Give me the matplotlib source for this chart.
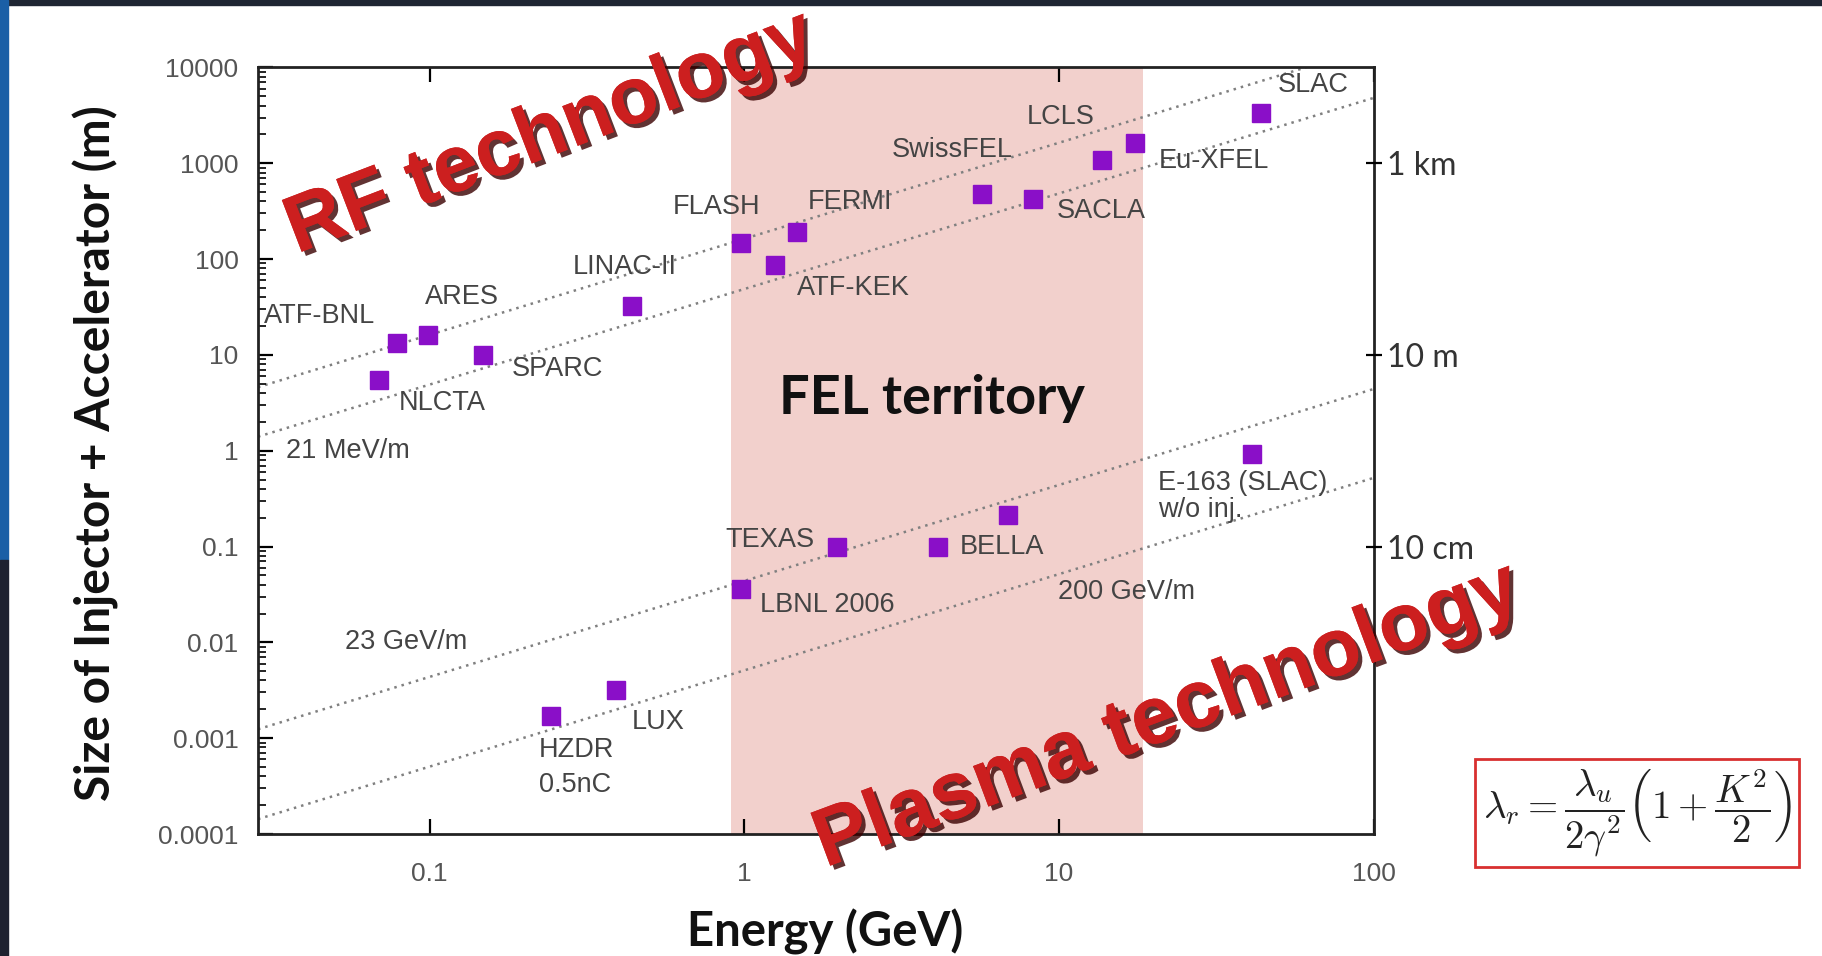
import matplotlib
matplotlib.use("Agg")
import matplotlib.pyplot as plt
import matplotlib.patheffects as pe
from matplotlib.patches import Rectangle

# ---------------------------
# Data
# ---------------------------
names = ["ATF-BNL", "ARES", "NLCTA", "SPARC", "LINAC-II", "FLASH", "ATF-KEK",
         "FERMI", "SwissFEL", "SACLA", "LCLS", "Eu-XFEL", "SLAC",
         "E-163", "TEXAS", "BELLA", "unlabeled", "LBNL 2006", "LUX", "HZDR"]
energy = [0.079, 0.099, 0.069, 0.148, 0.44, 0.975, 1.25,
          1.47, 5.7, 8.3, 13.7, 17.4, 44.0,
          41.0, 1.97, 4.13, 6.9, 0.975, 0.39, 0.244]
size_m = [13.4, 16.3, 5.5, 9.9, 32.7, 148, 87,
          190, 477, 427, 1070, 1630, 3370,
          0.92, 0.100, 0.100, 0.215, 0.036, 0.0032, 0.00172]

# gradient reference lines (end points)
rf_hi_x, rf_hi_y = [0.0285, 61.0], [4.6, 10000.0]
rf_lo_x, rf_lo_y = [0.0285, 100.0], [1.4, 4800.0]
pl_hi_x, pl_hi_y = [0.0285, 100.0], [0.00124, 4.4]
pl_lo_x, pl_lo_y = [0.0285, 100.0], [0.000143, 0.52]

fel_range = (0.91, 18.5)

# text labels: (text, x, y, ha)
labels = [
    ("ATF-BNL", 0.0446, 25.5, "center"),
    ("ARES", 0.127, 39.8, "center"),
    ("NLCTA", 0.110, 3.14, "center"),
    ("SPARC", 0.255, 7.05, "center"),
    ("LINAC-II", 0.417, 82.3, "center"),
    ("FLASH", 0.815, 351, "center"),
    ("FERMI", 2.17, 392, "center"),
    ("ATF-KEK", 2.22, 49.8, "center"),
    ("SwissFEL", 4.58, 1378, "center"),
    ("LCLS", 10.1, 3012, "center"),
    ("Eu-XFEL", 31.2, 1043, "center"),
    ("SACLA", 13.6, 314, "center"),
    ("SLAC", 64.3, 6580, "center"),
    ("21 MeV/m", 0.0551, 1.0, "center"),
    ("E-163 (SLAC)", 20.6, 0.458, "left"),
    ("w/o inj.", 20.6, 0.241, "left"),
    ("TEXAS", 1.21, 0.117, "center"),
    ("BELLA", 6.6, 0.0986, "center"),
    ("LBNL 2006", 1.84, 0.0244, "center"),
    ("200 GeV/m", 16.4, 0.0332, "center"),
    ("23 GeV/m", 0.0844, 0.01, "center"),
    ("LUX", 0.533, 0.00146, "center"),
    ("HZDR", 0.294, 0.000746, "center"),
    ("0.5nC", 0.29, 0.000323, "center"),
]

right_ticks = [1000, 10, 0.1]
right_labels = ["1 km", "10 m", "10 cm"]

W, H = 1822, 956


def fpos(x, y):
    """full-size pixel -> figure fraction"""
    return x / W, 1 - y / H


# ---------------------------
# Figure
# ---------------------------
plt.rcParams["mathtext.fontset"] = "cm"
fig = plt.figure(figsize=(W / 100, H / 100), dpi=100)
fig.patch.set_facecolor("white")

# slide frame bits
fig.patches.append(Rectangle((0, 1 - 5 / H), 1, 5 / H, transform=fig.transFigure,
                             color="#1f2633", zorder=0))
fig.patches.append(Rectangle((0, 1 - 560 / H), 8 / W, 560 / H, transform=fig.transFigure,
                             color="#1a5fa6", zorder=0))
fig.patches.append(Rectangle((0, 0), 8 / W, 1 - 560 / H, transform=fig.transFigure,
                             color="#1e2230", zorder=0))

ax = fig.add_axes([258 / W, 122 / H, (1373.5 - 258) / W, (834 - 67.4) / H])
ax.set_xscale("log")
ax.set_yscale("log")
ax.set_xlim(0.0285, 100)
ax.set_ylim(1e-4, 1e4)

ax.axvspan(*fel_range, color="#f2d0cc", lw=0, zorder=0)

dot = dict(color="#808080", lw=1.8, linestyle=(0, (1, 2)), zorder=1)
ax.plot(rf_hi_x, rf_hi_y, **dot)
ax.plot(rf_lo_x, rf_lo_y, **dot)
ax.plot(pl_hi_x, pl_hi_y, **dot)
ax.plot(pl_lo_x, pl_lo_y, **dot)

ax.plot(energy, size_m, "s", color="#8a0fc8", markersize=13, zorder=3)

for txt, x, y, ha in labels:
    ax.text(x, y, txt, ha=ha, va="center", fontsize=19.5, color="#444444",
            family="Liberation Sans", zorder=4)

ax.text(3.96, 3.5, "FEL territory", ha="center", va="center", fontsize=39,
        fontweight="bold", family="Lato", color="#111111", zorder=4)

# ticks / spines
ax.set_xticks([0.1, 1, 10, 100])
ax.set_xticklabels(["0.1", "1", "10", "100"])
ax.set_yticks([1e-4, 1e-3, 1e-2, 1e-1, 1, 10, 100, 1000, 10000])
ax.set_yticklabels(["0.0001", "0.001", "0.01", "0.1", "1", "10", "100", "1000", "10000"])
ax.tick_params(which="major", direction="in", length=11, width=1.6,
               top=True, right=True, labelsize=19, labelcolor="#555555", pad=14)
ax.tick_params(axis="x", which="major", pad=20)
ax.tick_params(which="minor", direction="in", length=6, width=1.2, top=True, right=True)
for lab in ax.get_xticklabels() + ax.get_yticklabels():
    lab.set_family("Liberation Sans")
for s in ax.spines.values():
    s.set_linewidth(2)
    s.set_color("#222222")

# right-hand unit labels
ax2 = ax.twinx()
ax2.set_yscale("log")
ax2.set_ylim(1e-4, 1e4)
ax2.set_yticks(right_ticks)
ax2.set_yticklabels(right_labels)
ax2.minorticks_off()
ax2.tick_params(axis="y", direction="inout", length=12, width=1.6, labelsize=23,
                labelcolor="#333333", pad=4)
for lab in ax2.get_yticklabels():
    lab.set_family("Lato")
for s in ax2.spines.values():
    s.set_visible(False)

# axis titles
fig.text(*fpos(96, 453), "Size of Injector + Accelerator (m)", rotation=90,
         ha="center", va="center", fontsize=34.5, fontweight="bold", family="Lato",
         color="#111111")
fig.text(*fpos(825, 932), "Energy (GeV)", ha="center", va="center", fontsize=34,
         fontweight="bold", family="Lato", color="#111111")

# big red captions
shadow = [pe.withSimplePatchShadow(offset=(3, -3), shadow_rgbFace="#3a0000", alpha=0.8),
          pe.Normal()]
fig.text(*fpos(550, 134), "RF technology", rotation=21, ha="center", va="center",
         fontsize=58, fontweight="bold", family="Liberation Sans", color="#cc1f1f",
         path_effects=shadow, zorder=10)
fig.text(*fpos(1168, 717), "Plasma technology", rotation=20.5, ha="center", va="center",
         fontsize=59, fontweight="bold", family="Liberation Sans", color="#cc1f1f",
         path_effects=shadow, zorder=10)

# FEL resonance formula
fig.text(*fpos(1637, 813),
         r"$\lambda_r = \dfrac{\lambda_u}{2\gamma^2}\left(1 + \dfrac{K^2}{2}\right)$",
         ha="center", va="center", fontsize=28, color="#222222",
         bbox=dict(boxstyle="square,pad=0.2", fc="white", ec="#d83030", lw=2))

fig.savefig("out.png", dpi=100)
